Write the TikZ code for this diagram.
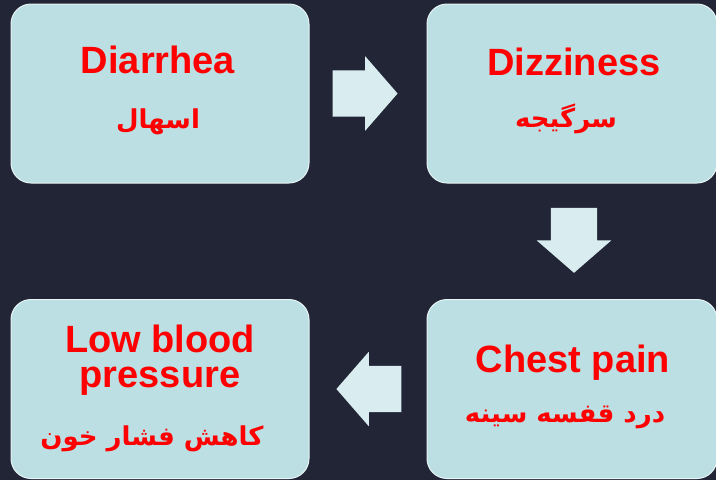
\documentclass[tikz,border=0pt]{standalone}
\usepackage{fontspec}
\setmainfont{Liberation Sans}
\newfontfamily\arabicfont[Script=Arabic]{DejaVu Sans}
\TeXXeTstate=1
\usetikzlibrary{shapes.arrows,calc}
\definecolor{bgnavy}{HTML}{222536}
\definecolor{boxcyan}{HTML}{BBDFE3}
\definecolor{arrowpale}{HTML}{D9EDF0}
\tikzset{
  symbox/.style={draw=white!65!boxcyan,line width=1pt,fill=boxcyan,rounded corners=20pt,inner sep=0pt,minimum height=179pt},
  entext/.style={text=red,font=\fontsize{38}{35}\selectfont\bfseries,align=center,anchor=base},
  artext/.style={text=red,font=\fontsize{26}{30}\arabicfont\bfseries,anchor=base},
  flow/.style={single arrow,fill=arrowpale,inner xsep=0pt,inner ysep=23pt,minimum height=65pt,minimum width=74pt,single arrow head extend=14pt,single arrow tip angle=98}
}
\begin{document}
\begin{tikzpicture}[x=1pt,y=-1pt]
\fill[bgnavy] (0,0) rectangle (716,480);
\useasboundingbox (0,0) rectangle (716,480);
\clip (0,0) rectangle (716,480);
% boxes
\node[symbox,minimum width=298pt] (diar) at (160,93.5) {};
\node[symbox,minimum width=290pt] (dizz) at (572,93.5) {};
\node[symbox,minimum width=290pt] (chest) at (572,389) {};
\node[symbox,minimum width=298pt] (lowbp) at (160,389) {};
% labels
\node[entext] (diarEn) at (158,73) {Diarrhea};
\node[artext] (diarAr) at (158,128) {\beginR اسهال\endR};
\node[entext] (dizzEn) at (574,75) {Dizziness};
\node[artext] (dizzAr) at (566,127) {\beginR سرگیجه\endR};
\node[entext] (chestEn) at (573,372) {Chest pain};
\node[artext] (chestAr) at (565,422) {\beginR درد قفسه سینه\endR};
\node[entext] (lowbpEn) at (160,387) {Low blood\\pressure};
\node[artext] (lowbpAr) at (152,445) {\beginR کاهش فشار خون\endR};
% arrows
\node[flow] (a12) at ($(diar.east)!.5!(dizz.west)+(-13,0)$) {};
\node[flow,rotate=-90] (a23) at ($(dizz.south)!.5!(chest.north)+(2,-11)$) {};
\node[flow,rotate=180] (a34) at ($(chest.west)!.5!(lowbp.east)+(11,0)$) {};
\end{tikzpicture}
\end{document}
